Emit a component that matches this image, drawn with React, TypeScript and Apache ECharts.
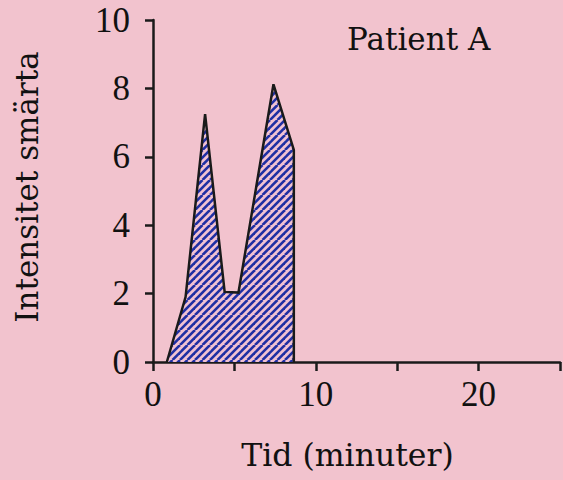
import React, { useEffect, useRef } from "react";
import * as echarts from "echarts";

const timeMin = [0.85, 2.0, 3.2, 4.4, 5.25, 7.4, 8.65, 8.65];
const intensity = [0, 1.9, 7.25, 2.05, 2.03, 8.12, 6.2, 0];
const xLabelsShown = [0, 10, 20];
const titleText = "Patient A";
const xName = "Tid (minuter)";
const yName = "Intensitet smärta";

const BG = "#f2c3ce";
const INK = "#1a1a1a";
const STRIPE = "#1f2fa3";

function makePattern(): HTMLCanvasElement {
  const s = 15;
  const c = document.createElement("canvas");
  c.width = s;
  c.height = s;
  const ctx = c.getContext("2d")!;
  ctx.fillStyle = "#f1c2d2";
  ctx.fillRect(0, 0, s, s);
  ctx.strokeStyle = STRIPE;
  ctx.lineWidth = 2.6;
  const p = s / 2;
  for (let k = -2; k <= 2; k++) {
    ctx.beginPath();
    ctx.moveTo(k * p, s);
    ctx.lineTo(k * p + s, 0);
    ctx.stroke();
  }
  return c;
}

export default function App() {
  const ref = useRef<HTMLDivElement>(null);
  useEffect(() => {
    if (!ref.current) return;
    const chart = echarts.init(ref.current, undefined, { renderer: "svg" });
    const serif = "DejaVu Serif";
    const tickFont = "Liberation Serif";
    chart.setOption({
      animation: false,
      backgroundColor: BG,
      title: {
        text: titleText,
        left: 347,
        top: 23,
        padding: 0,
        textStyle: { fontFamily: serif, fontSize: 31, fontWeight: "normal", color: "#111" },
      },
      grid: { left: 153, right: 0, top: 20, bottom: 118, containLabel: false },
      xAxis: {
        type: "value",
        min: 0,
        max: 25,
        interval: 5,
        name: xName,
        nameLocation: "middle",
        nameGap: 77,
        nameTextStyle: { fontFamily: serif, fontSize: 31.5, color: "#111", padding: [0, 18, 0, 0] },
        axisLine: { show: true, lineStyle: { color: INK, width: 2.5 } },
        axisTick: { show: true, inside: false, length: 9, lineStyle: { color: INK, width: 2.5 } },
        splitLine: { show: false },
        axisLabel: {
          margin: 15,
          fontFamily: tickFont,
          fontSize: 35,
          color: "#111",
          formatter: (v: number) => (xLabelsShown.includes(v) ? String(v) : ""),
        },
      },
      yAxis: {
        type: "value",
        min: 0,
        max: 10,
        interval: 2,
        name: yName,
        nameLocation: "middle",
        nameGap: 111,
        nameTextStyle: { fontFamily: serif, fontSize: 31, color: "#111", padding: [0, 0, 0, 8] },
        axisLine: { show: true, lineStyle: { color: INK, width: 2.5 } },
        axisTick: { show: true, inside: false, length: 8, lineStyle: { color: INK, width: 2.5 } },
        splitLine: { show: false },
        axisLabel: { margin: 23, fontFamily: tickFont, fontSize: 35, color: "#111" },
      },
      series: [
        {
          type: "line",
          data: timeMin.map((t, i) => [t, intensity[i]]),
          showSymbol: false,
          symbol: "none",
          lineStyle: { color: INK, width: 2.5, join: "miter" },
          areaStyle: { color: { image: makePattern(), repeat: "repeat" }, opacity: 1 },
          z: 1,
        },
      ],
    });
    return () => chart.dispose();
  }, []);
  return (
    <div
      ref={ref}
      style={{ position: "fixed", left: 0, top: 0, width: 563, height: 480, background: BG }}
    />
  );
}
